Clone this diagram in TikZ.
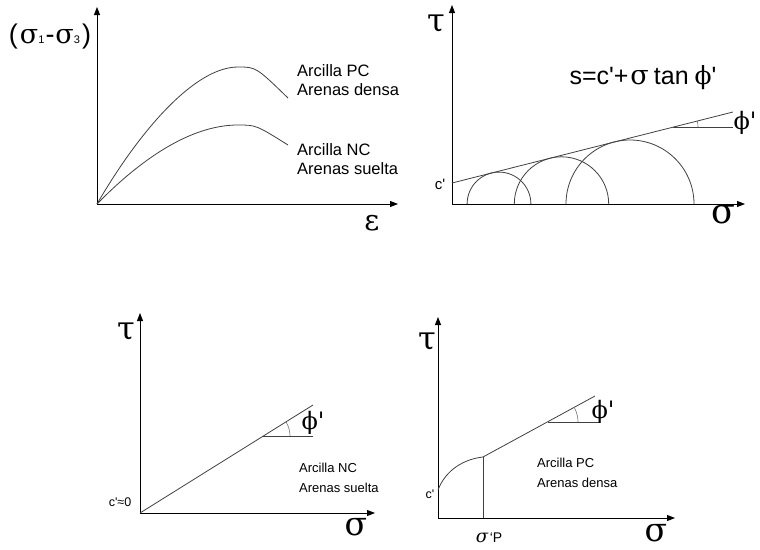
\documentclass[tikz,border=0pt]{standalone}
\usepackage{fontspec}
\setmainfont{Liberation Sans}
\newfontfamily\grk{DejaVu Serif}
\usetikzlibrary{arrows.meta, positioning, calc}

\newcommand{\gsym}[2]{{\grk\fontsize{#1}{#1}\selectfont #2}}
\newcommand{\prm}{\textquotesingle}

\begin{document}
\begin{tikzpicture}[
  x=1pt, y=-1pt,
  axis/.style={-{Triangle[length=8pt, width=6pt]}, line width=0.9pt},
  crv/.style={line width=0.8pt, color=black!75},
  angmark/.style={line width=0.6pt, color=black!55},
  txt/.style={font=\fontsize{16.5}{19}\selectfont, align=left, inner sep=0pt, anchor=west},
  smtxt/.style={font=\fontsize{13}{20}\selectfont, align=left, inner sep=0pt, anchor=west},
  sym/.style={inner sep=0pt}
]
\useasboundingbox (0,0) rectangle (760,549);

% --- top left: deviator stress vs strain
\coordinate (oA) at (97,204);
\coordinate (yA) at (97,7);
\coordinate (xA) at (398,204);
\draw[axis] (oA) -- (yA);
\draw[axis] (oA) -- (xA);
\coordinate (pkPC) at (238,67);
\coordinate (endPC) at (288,98);
\coordinate (pkNC) at (238,125);
\coordinate (endNC) at (288,145);
\draw[crv] (oA) .. controls (140,130) and (195,67) .. (pkPC) .. controls (256,67) .. (endPC);
\draw[crv] (oA) .. controls (140,160) and (190,125) .. (pkNC) .. controls (256,125) .. (endNC);
\node[txt] (lblPC) at (297,80) {Arcilla PC\\Arenas densa};
\node[txt] (lblNC) at (297,159) {Arcilla NC\\Arenas suelta};
\node[sym] (dsig) at (50,37) {\fontsize{27}{27}\selectfont (\kern2pt\gsym{27}{σ}{\fontsize{11}{11}\selectfont 1}\kern1pt-\kern1pt\gsym{27}{σ}{\fontsize{11}{11}\selectfont 3}\kern2pt)};
\node[sym] (eps) at (372,223) {\gsym{29}{ε}};

% --- top right: Mohr circles and envelope
\coordinate (oB) at (452,204);
\coordinate (yB) at (452,5);
\coordinate (xB) at (745,204);
\draw[axis] (oB) -- (yB);
\draw[axis] (oB) -- (xB);
\coordinate (cB) at (452,183);
\coordinate (envB) at (733,112);
\draw[crv] (cB) -- (envB);
\foreach \cx/\r in {499/31.9, 561.5/47.2, 630/64.0}
  \draw[crv] (\cx+\r,204) arc[start angle=0, end angle=180, radius=\r pt];
\coordinate (hB) at (673,127);
\coordinate (hBend) at (733,127);
\draw[crv] (hB) -- (hBend);
\draw[angmark] ($(hB)+(25,0)$) arc[start angle=0, end angle=14.2, radius=25pt];
\node[sym] (phiB) at (745,123) {\gsym{24}{ϕ\prm}};
\node[sym] (tauB) at (436,24) {\gsym{32}{τ}};
\node[sym, font=\fontsize{15}{15}\selectfont] (cpB) at (440,184) {c\prm};
\node[sym] (sigB) at (723,215) {\gsym{35}{σ}};
\node[sym, font=\fontsize{25}{25}\selectfont] (formula) at (643,78)
  {s=c\prm+\kern2pt\gsym{27}{σ}\kern5pt tan\kern6pt\gsym{25}{ϕ}\prm};

% --- bottom left: NC clay, loose sand
\coordinate (oC) at (140,513);
\coordinate (yC) at (140,313);
\coordinate (xC) at (375,513);
\draw[axis] (oC) -- (yC);
\draw[axis] (oC) -- (xC);
\coordinate (envC) at (313,405);
\draw[crv] (oC) -- (envC);
\coordinate (hC) at (263,436);
\coordinate (hCend) at (313,436);
\draw[crv] (hC) -- (hCend);
\draw[angmark] ($(hC)+(27,0)$) arc[start angle=0, end angle=32, radius=27pt];
\node[sym] (phiC) at (313,423) {\gsym{24}{ϕ\prm}};
\node[sym] (tauC) at (126,332) {\gsym{32}{τ}};
\node[sym, font=\fontsize{12.5}{12.5}\selectfont] (cpC) at (120,502) {c\prm≈0};
\node[sym] (sigC) at (356,527) {\gsym{33}{σ}};
\node[smtxt] (lblNCb) at (299,478) {Arcilla NC\\Arenas suelta};

% --- bottom right: OC clay, dense sand
\coordinate (oD) at (438,518);
\coordinate (yD) at (438,317);
\coordinate (xD) at (675,518);
\draw[axis] (oD) -- (yD);
\draw[axis] (oD) -- (xD);
\coordinate (cD) at (438,490);
\coordinate (kD) at (483,457);
\coordinate (kDbase) at (483,518);
\coordinate (envD) at (595,396);
\draw[crv] (cD) .. controls (446,469) and (465,459) .. (kD);
\draw[crv] (kD) -- (kDbase);
\draw[crv] (kD) -- (envD);
\coordinate (hD) at (548,422);
\coordinate (hDend) at (600,422);
\draw[crv] (hD) -- (hDend);
\draw[angmark] ($(hD)+(30,0)$) arc[start angle=0, end angle=28.6, radius=30pt];
\node[sym] (phiD) at (603,412) {\gsym{24}{ϕ\prm}};
\node[sym] (tauD) at (427,342) {\gsym{32}{τ}};
\node[sym, font=\fontsize{12.5}{12.5}\selectfont] (cpD) at (430,494) {c\prm};
\node[sym] (sigP) at (489,538) {\gsym{18}{\itshape σ}\,\fontsize{14}{14}\selectfont`P};
\node[sym] (sigD) at (656,533) {\gsym{33}{σ}};
\node[smtxt] (lblPCb) at (537,473) {Arcilla PC\\Arenas densa};
\end{tikzpicture}
\end{document}
